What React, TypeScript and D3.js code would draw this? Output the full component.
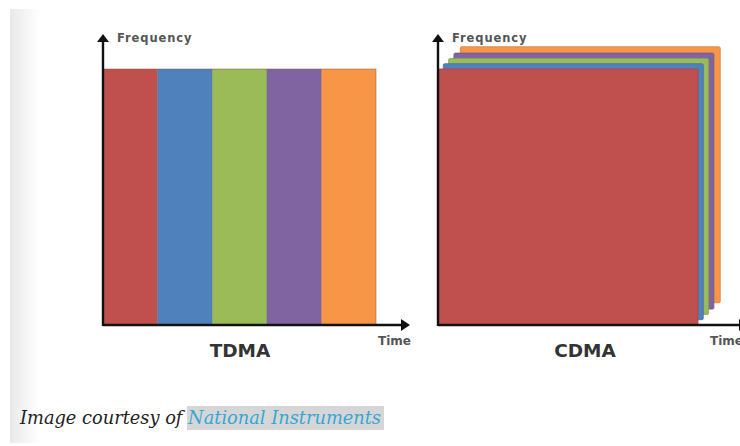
import * as d3 from 'd3';

// users sharing the channel, in draw order
const users = ['User 1', 'User 2', 'User 3', 'User 4', 'User 5'];
const userColors = ['#c0504d', '#4f81bd', '#9bbb59', '#8064a2', '#f79646'];
// TDMA: each user owns one time slot (start, end), full frequency band
const slotStart = [0, 1, 2, 3, 4];
const slotEnd = [1, 2, 3, 4, 5];
// CDMA: every user spans whole time and frequency; layer depth for the stacked look
const layerDepth = [0, 1, 2, 3, 4.2];
const panelTitles = ['TDMA', 'CDMA'];
const axisLabels = ['Frequency', 'Time'];

const W = 740;
const H = 446;
const base = 325;
const top = 69;

function Arrows({ x0, xEnd }: { x0: number; xEnd: number }) {
  return (
    <g fill="#111" stroke="#111">
      <line x1={x0} y1={base + 1} x2={x0} y2={40} strokeWidth={2.4} />
      <polygon points={`${x0},34 ${x0 - 6},42 ${x0 + 6},42`} stroke="none" />
      <line x1={x0} y1={base} x2={xEnd - 8} y2={base} strokeWidth={2.4} />
      <polygon points={`${xEnd},${base} ${xEnd - 9},${base - 6} ${xEnd - 9},${base + 6}`} stroke="none" />
    </g>
  );
}

function Labels({ x0, xEnd, title, titleX }: { x0: number; xEnd: number; title: string; titleX: number }) {
  return (
    <g fontFamily="'DejaVu Sans', Verdana, sans-serif" fontWeight="bold">
      <text x={x0 + 14} y={42} fontSize={11.5} fill="#555" letterSpacing={0.9}>{axisLabels[0]}</text>
      <text x={xEnd - 35} y={345} fontSize={12} fill="#555">{axisLabels[1]}</text>
      <text x={titleX} y={357} fontSize={18.5} fill="#333" textAnchor="middle">{title}</text>
    </g>
  );
}

export default function App() {
  // TDMA panel scales
  const xT = d3.scaleLinear().domain([0, 5]).range([103, 376]);
  const yF = d3.scaleLinear().domain([0, 1]).range([base, top]);
  // CDMA panel: red layer is the front face; deeper layers move up-right
  const cx0 = 438;
  const cx1 = 698;
  const shift = d3.scaleLinear().domain([0, 1]).range([0, 5.3]);

  return (
    <svg width={W} height={H} style={{ position: 'absolute', left: 0, top: 0, display: 'block' }}>
      <defs>
        <linearGradient id="edge" x1="0" x2="1" y1="0" y2="0">
          <stop offset="0" stopColor="#e9e9e9" />
          <stop offset="1" stopColor="#ffffff" />
        </linearGradient>
      </defs>
      <rect x={0} y={0} width={W} height={H} fill="#fff" />
      <rect x={10} y={9} width={30} height={434} fill="url(#edge)" />

      {/* TDMA */}
      <g>
        {users.map((u, i) => (
          <rect key={u} x={xT(slotStart[i])} y={yF(1)} width={xT(slotEnd[i]) - xT(slotStart[i])}
            height={yF(0) - yF(1)} fill={userColors[i]} />
        ))}
        <rect x={xT(0)} y={yF(1)} width={xT(5) - xT(0)} height={yF(0) - yF(1)} fill="none"
          stroke="#8a5a3a" strokeOpacity={0.5} strokeWidth={1} />
        {users.slice(1).map((u, i) => (
          <line key={u} x1={xT(slotStart[i + 1])} x2={xT(slotStart[i + 1])} y1={yF(1)} y2={yF(0)}
            stroke="#555" strokeOpacity={0.35} strokeWidth={1} />
        ))}
      </g>
      <Arrows x0={103} xEnd={410} />
      <Labels x0={103} xEnd={413} title={panelTitles[0]} titleX={240} />

      {/* CDMA */}
      <g>
        {users.map((u, i) => i).reverse().map((i) => {
          const d = shift(layerDepth[i]);
          return (
            <rect key={users[i]} x={cx0 + d} y={yF(1) - d} width={cx1 - cx0} height={yF(0) - yF(1)}
              fill={userColors[i]} stroke={d3.color(userColors[i])!.darker(0.4).toString()} strokeWidth={0.8}
              rx={i ? 1.5 : 0} />
          );
        })}
      </g>
      <Arrows x0={438} xEnd={748} />
      <Labels x0={438} xEnd={745} title={panelTitles[1]} titleX={585} />

      {/* caption */}
      <rect x={187} y={406} width={197} height={24} fill="#d6d6d6" />
      <text x={20} y={424} fontFamily="'DejaVu Serif', serif" fontStyle="italic" fontSize={17.8}>
        <tspan fill="#222">Image courtesy of </tspan>
        <tspan fill="#35a7d6">National Instruments</tspan>
      </text>
    </svg>
  );
}
